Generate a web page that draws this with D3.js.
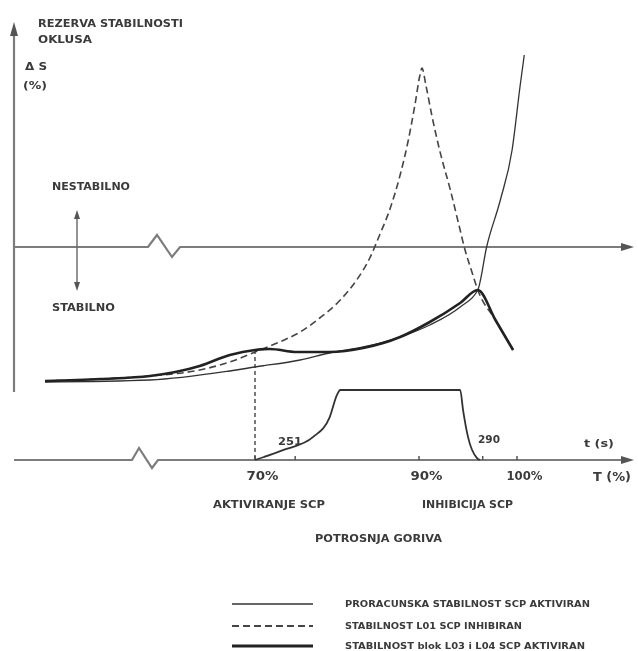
<!DOCTYPE html>
<html>
<head>
<meta charset="utf-8">
<script src="https://cdnjs.cloudflare.com/ajax/libs/d3/7.8.5/d3.min.js"></script>
<style>
body { margin: 0; background: #fff; }
text { font-family: "Liberation Sans Narrow", "DejaVu Sans Condensed", "Liberation Sans", sans-serif; font-weight: bold; fill: #3a3a3a; }
</style>
</head>
<body>
<div id="chart"></div>
<script>
// T (%) , delta S (%)
var proracunska = [[40,-13.5],[55,-13.3],[66.4,-12.4],[70,-12.0],[75.5,-11.3],[79.1,-10.6],[83.2,-10.0],
  [87.7,-9.0],[91.1,-7.8],[94.2,-6.0],[96.0,-4.3],[96.9,0],[98.3,4.7],[99.5,9.7],[100.4,16.2],[100.9,19.2]];
var l01Inhibiran = [[40,-13.4],[47.9,-13.2],[55,-12.9],[62.1,-12.3],[66.4,-11.5],[70,-10.5],[73.0,-9.5],[75.5,-8.5],
  [77.9,-7.1],[80.4,-5.3],[82.4,-3.3],[84.0,-1.1],[85.2,1.2],[86.5,3.9],[87.7,7.2],[88.7,10.7],[89.5,14.2],
  [90.1,17.2],[90.3,17.9],[90.7,16.2],[91.3,13.2],[92.1,9.7],[93.2,5.7],[94.0,2.5],[94.7,-0.3],[95.4,-2.5],
  [96.0,-4.3],[97.8,-7.3],[99.6,-10.3]];
var blokL03L04 = [[40,-13.4],[47.9,-13.2],[55,-12.9],[62.1,-11.9],[66.4,-10.8],[70,-10.3],[71.8,-10.2],[75.1,-10.5],
  [79.1,-10.5],[83.2,-10.1],[87.7,-9.0],[91.1,-7.5],[94.2,-5.6],[96.0,-4.3],[97.8,-7.3],[99.6,-10.3]];
// SCP activation pulse (0 = off, 1 = on)
var scpPulse = [[70,0],[73.4,0.14],[77.1,0.33],[79.1,0.61],[80.0,0.93],[80.4,1],[94.2,1],[94.5,0.71],[95.0,0.33],[95.9,0.03],[96.2,0]];

var tickPct = [70, 90, 100];
var tickMarks = [70, 74.9, 90, 96.5, 100];
var legendNames = ["PRORACUNSKA STABILNOST SCP AKTIVIRAN", "STABILNOST L01 SCP INHIBIRAN", "STABILNOST blok L03 i L04 SCP AKTIVIRAN"];

var width = 638, height = 651;

var svg = d3.select("#chart").append("svg")
  .attr("width", width)
  .attr("height", height);

svg.append("defs").append("filter")
  .attr("id", "scan")
  .append("feGaussianBlur")
  .attr("stdDeviation", 0.5);

var vis = svg.append("g").attr("filter", "url(#scan)");

// axis has a break left of 70 %, so the scale is piecewise
var x = d3.scaleLinear().domain([40, 70, 90, 100, 114]).range([45, 255, 419, 517, 630]);
var y = d3.scaleLinear().domain([-14, 22]).range([387, 27]);
var yPulse = d3.scaleLinear().domain([0, 1]).range([460, 390]);
var axisY = 460, axisX = 14;

var styles = [
  { stroke: "#333", width: 1.3, dash: null },
  { stroke: "#444", width: 1.6, dash: "7,4" },
  { stroke: "#222", width: 2.6, dash: null }
];

function arrow(g, x0, y0, dir) {
  var p;
  if (dir == "up") p = [[x0, y0], [x0 - 4, y0 + 14], [x0 + 4, y0 + 14]];
  else if (dir == "down") p = [[x0, y0], [x0 - 3, y0 - 9], [x0 + 3, y0 - 9]];
  else if (dir == "upSmall") p = [[x0, y0], [x0 - 3, y0 + 9], [x0 + 3, y0 + 9]];
  else p = [[x0, y0], [x0 - 13, y0 - 4], [x0 - 13, y0 + 4]];
  g.append("path")
    .attr("d", "M" + p.join("L") + "Z")
    .style("fill", "#555");
}

// axes
var axes = vis.append("g")
  .style("fill", "none")
  .style("stroke", "#7c7c7c")
  .style("stroke-width", 2.2);

axes.append("path").attr("d", "M" + axisX + ",392V34");
arrow(vis, axisX, 22, "up");

axes.append("path")
  .attr("d", "M" + axisX + "," + y(0) + "H148L157," + (y(0) - 12) + "L172," + (y(0) + 10) + "L180," + y(0) + "H622");
arrow(vis, 634, y(0), "right");

axes.append("path")
  .attr("d", "M" + axisX + "," + axisY + "H132L139," + (axisY - 12) + "L152," + (axisY + 8) + "L158," + axisY + "H622");
arrow(vis, 634, axisY, "right");

// small tick marks on T axis
vis.selectAll("line.tick-mark")
  .data(tickMarks)
  .enter().append("line")
  .attr("class", "tick-mark")
  .attr("x1", function(d) { return x(d); })
  .attr("x2", function(d) { return x(d); })
  .attr("y1", axisY - 4)
  .attr("y2", axisY)
  .style("stroke", "#555")
  .style("stroke-width", 1.5);

var xAxis = vis.append("g")
  .attr("transform", "translate(0," + axisY + ")")
  .call(d3.axisBottom(x).tickValues(tickPct).tickSize(0).tickPadding(11)
    .tickFormat(function(d) { return d + "%"; }));
xAxis.select(".domain").remove();
xAxis.selectAll("text")
  .attr("dx", 7)
  .attr("textLength", function(d) { return d == 100 ? 36 : 32; })
  .attr("lengthAdjust", "spacingAndGlyphs")
  .style("font-size", "12px")
  .style("font-family", null);

// stable / unstable marker
vis.append("line")
  .attr("x1", 77).attr("x2", 77)
  .attr("y1", 218).attr("y2", 283)
  .style("stroke", "#666")
  .style("stroke-width", 1.4);
arrow(vis, 77, 210, "upSmall");
arrow(vis, 77, 291, "down");

// SCP activation
vis.append("line")
  .attr("x1", x(70)).attr("x2", x(70))
  .attr("y1", y(-10.3)).attr("y2", axisY)
  .style("stroke", "#444")
  .style("stroke-width", 1.4)
  .style("stroke-dasharray", "4,3");

vis.append("path")
  .attr("d", d3.line()
    .x(function(d) { return x(d[0]); })
    .y(function(d) { return yPulse(d[1]); })
    .curve(d3.curveMonotoneX)(scpPulse))
  .style("fill", "none")
  .style("stroke", "#333")
  .style("stroke-width", 1.8);

// stability curves
var line = d3.line()
  .x(function(d) { return x(d[0]); })
  .y(function(d) { return y(d[1]); })
  .curve(d3.curveMonotoneX);

var series = [proracunska, l01Inhibiran, blokL03L04];
vis.selectAll("path.curve")
  .data(series)
  .enter().append("path")
  .attr("class", "curve")
  .attr("d", line)
  .style("fill", "none")
  .style("stroke", function(d, i) { return styles[i].stroke; })
  .style("stroke-width", function(d, i) { return styles[i].width; })
  .style("stroke-dasharray", function(d, i) { return styles[i].dash; });

// annotations
var labels = [
  { t: "REZERVA STABILNOSTI", x: 38, y: 27, w: 145, s: 11 },
  { t: "OKLUSA", x: 38, y: 43, w: 54, s: 11 },
  { t: "\u0394 S", x: 25, y: 70, w: 22, s: 11 },
  { t: "(%)", x: 23, y: 89, w: 24, s: 11 },
  { t: "NESTABILNO", x: 52, y: 190, w: 78, s: 10 },
  { t: "STABILNO", x: 52, y: 311, w: 63, s: 10 },
  { t: "251", x: 278, y: 445, w: 24, s: 11 },
  { t: "290", x: 478, y: 443, w: 22, s: 11 },
  { t: "t (s)", x: 584, y: 447, w: 30, s: 11 },
  { t: "T (%)", x: 593, y: 481, w: 38, s: 12 },
  { t: "AKTIVIRANJE SCP", x: 213, y: 508, w: 112, s: 10 },
  { t: "INHIBICIJA SCP", x: 422, y: 508, w: 91, s: 10 },
  { t: "POTROSNJA GORIVA", x: 315, y: 542, w: 127, s: 10 }
];

vis.selectAll("text.label")
  .data(labels)
  .enter().append("text")
  .attr("class", "label")
  .attr("x", function(d) { return d.x; })
  .attr("y", function(d) { return d.y; })
  .attr("textLength", function(d) { return d.w; })
  .attr("lengthAdjust", "spacingAndGlyphs")
  .style("font-size", function(d) { return d.s + "px"; })
  .text(function(d) { return d.t; });

// legend
var legendY = [604, 626, 646], legendTextW = [245, 177, 240];
var legend = vis.selectAll("g.legend")
  .data(legendNames)
  .enter().append("g")
  .attr("class", "legend")
  .attr("transform", function(d, i) { return "translate(0," + legendY[i] + ")"; });

legend.append("line")
  .attr("x1", 232).attr("x2", 313)
  .style("stroke", function(d, i) { return styles[i].stroke; })
  .style("stroke-width", function(d, i) { return styles[i].width + 0.4; })
  .style("stroke-dasharray", function(d, i) { return styles[i].dash; });

legend.append("text")
  .attr("x", 345)
  .attr("y", 3)
  .attr("textLength", function(d, i) { return legendTextW[i]; })
  .attr("lengthAdjust", "spacingAndGlyphs")
  .style("font-size", "9px")
  .text(function(d) { return d; });
</script>
</body>
</html>
